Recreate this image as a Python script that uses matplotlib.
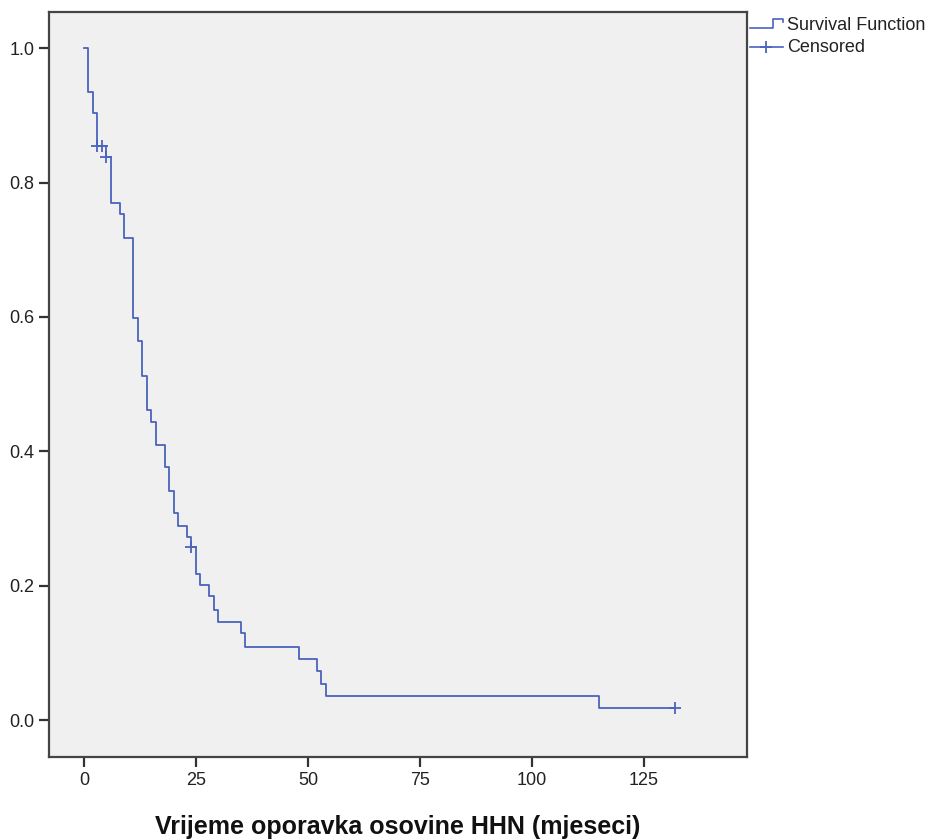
import matplotlib
matplotlib.use("Agg")
import matplotlib.pyplot as plt
from matplotlib.lines import Line2D

# Kaplan-Meier step values
event_times = [0, 1, 2, 3, 5, 6, 8, 9, 11, 12, 13, 14, 15, 16, 18, 19, 20, 21,
               23, 24, 25, 26, 28, 29, 30, 35, 36, 48, 52, 53, 54, 115]
survival = [1.0, 0.935, 0.903, 0.855, 0.838, 0.769, 0.753, 0.717, 0.598, 0.564,
            0.512, 0.462, 0.444, 0.409, 0.376, 0.341, 0.308, 0.289, 0.273, 0.257,
            0.218, 0.201, 0.184, 0.164, 0.146, 0.129, 0.109, 0.091, 0.073, 0.053,
            0.036, 0.018]
last_time = 132

censored_times = [3, 4, 5, 24, 132]
censored_surv = [0.855, 0.855, 0.838, 0.257, 0.018]

x_ticks = [0, 25, 50, 75, 100, 125]
y_ticks = [0.0, 0.2, 0.4, 0.6, 0.8, 1.0]
x_label = "Vrijeme oporavka osovine HHN (mjeseci)"

LINE_COLOR = "#4a63bd"
W, H = 936, 839

plt.rcParams["font.family"] = ["Liberation Sans", "DejaVu Sans"]

fig = plt.figure(figsize=(W / 100, H / 100), dpi=100)
ax = fig.add_axes([49 / W, 1 - 757 / H, (747 - 49) / W, (757 - 12) / H])
ax.set_facecolor("#f0f0f0")

ax.step(event_times + [last_time], survival + [survival[-1]], where="post",
        color=LINE_COLOR, linewidth=1.3)
ax.plot(censored_times, censored_surv, linestyle="none", marker="+",
        markersize=9, markeredgewidth=1.3, color=LINE_COLOR)

ax.set_xlim(-7.8, 148)
ax.set_ylim(-0.055, 1.054)
ax.set_xticks(x_ticks)
ax.set_yticks(y_ticks)
ax.set_yticklabels([f"{v:.1f}" for v in y_ticks])
ax.tick_params(direction="out", length=7.5, width=1.6, color="#333333",
               labelsize=13, labelcolor="#222222", pad=3)
for side in ax.spines.values():
    side.set_color("#444444")
    side.set_linewidth(1.6)

ax.set_xlabel(x_label, fontsize=18, fontweight="bold", color="#111111", labelpad=19)

# legend drawn outside the frame, top right
def fx(px):
    return px / W

def fy(py):
    return 1 - py / H

fig.add_artist(Line2D([fx(750), fx(773), fx(773), fx(783), fx(783)],
                      [fy(27.5), fy(27.5), fy(18.5), fy(18.5), fy(21.5)],
                      color=LINE_COLOR, linewidth=1.2, transform=fig.transFigure))
fig.text(fx(787), fy(25), "Survival Function", fontsize=13, va="center",
         ha="left", color="#222222")
fig.add_artist(Line2D([fx(750), fx(783)], [fy(47), fy(47)],
                      color=LINE_COLOR, linewidth=1.2, transform=fig.transFigure))
fig.add_artist(Line2D([fx(766)], [fy(47)], marker="+", markersize=9,
                      markeredgewidth=1.3, color=LINE_COLOR,
                      transform=fig.transFigure))
fig.text(fx(787), fy(47), "Censored", fontsize=13, va="center",
         ha="left", color="#222222")

fig.savefig("out.png", dpi=100, facecolor="white")
